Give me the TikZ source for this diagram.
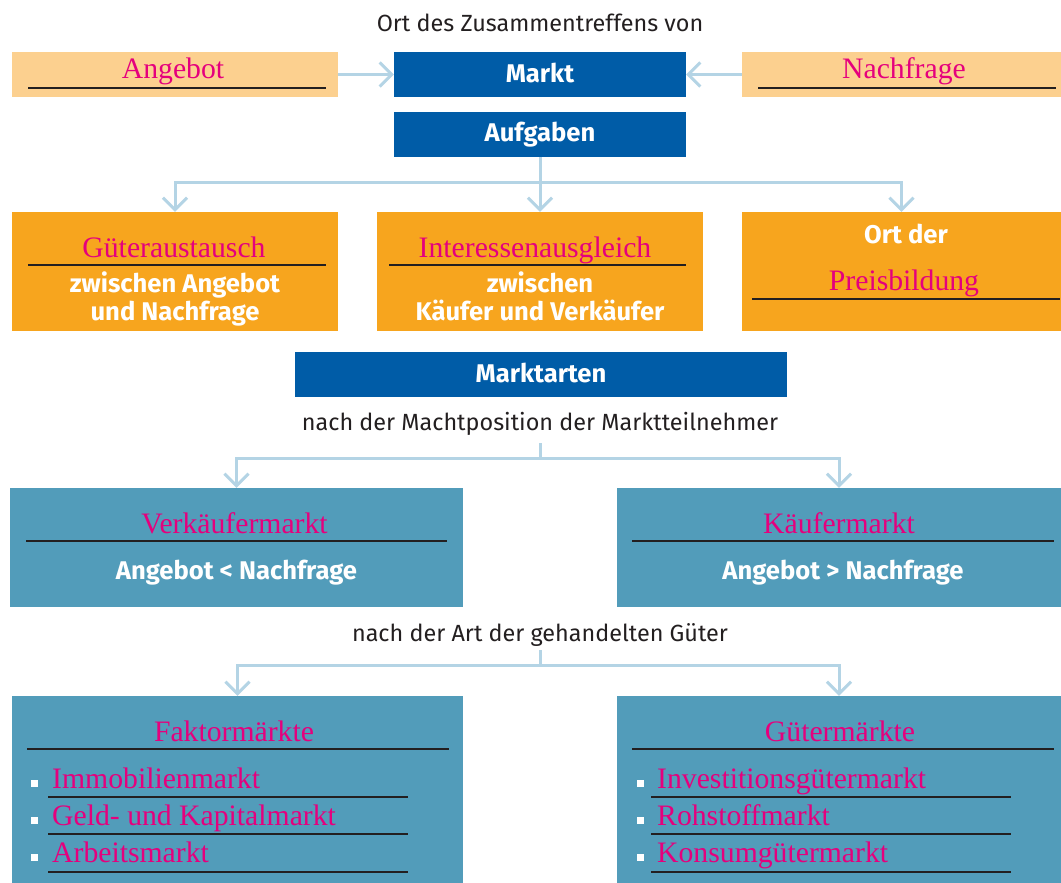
\documentclass[tikz,border=0pt]{standalone}
\usepackage{fontspec}
\setmainfont{Liberation Serif}
\newfontfamily\fira{Fira Sans}
\usetikzlibrary{arrows.meta}
\definecolor{lorange}{RGB}{252,208,143}
\definecolor{orangec}{RGB}{247,165,30}
\definecolor{dblue}{RGB}{0,92,167}
\definecolor{teal}{RGB}{82,156,186}
\definecolor{pinkc}{RGB}{229,0,125}
\definecolor{arrowc}{RGB}{180,212,229}
\definecolor{textc}{RGB}{35,31,32}
\begin{document}
\begin{tikzpicture}[x=1pt,y=-1pt,
  boxx/.style={rectangle, inner sep=0pt, draw=none},
  pinkt/.style={font=\fontsize{29.7}{34}\selectfont, text=pinkc, inner sep=0pt, anchor=base},
  wb/.style={font=\fira\bfseries\fontsize{25.6}{30}\selectfont, text=white, inner sep=0pt, anchor=base},
  plain/.style={font=\fira\fontsize{23.4}{28}\selectfont, text=textc, inner sep=0pt, anchor=base},
  item/.style={pinkt, anchor=base west},
  uline/.style={line width=1.7pt, draw=textc},
  conn/.style={draw=arrowc, line width=3pt},
  arr/.style={conn, -{Straight Barb[length=12pt, width=24pt]}},
  bullet/.style={rectangle, fill=white, inner sep=0pt, minimum size=7pt}
]
\useasboundingbox (0,0) rectangle (1061,883);

% boxes
\node[boxx, fill=lorange, minimum width=326pt, minimum height=45pt] (angebot) at (175,74.5) {};
\node[boxx, fill=dblue, minimum width=292pt, minimum height=45pt] (markt) at (540,74.5) {};
\node[boxx, fill=lorange, minimum width=319pt, minimum height=45pt] (nachfrage) at (901.5,74.5) {};
\node[boxx, fill=dblue, minimum width=292pt, minimum height=45pt] (aufgaben) at (540,134.5) {};
\node[boxx, fill=orangec, minimum width=326pt, minimum height=119pt] (gut) at (175,271.5) {};
\node[boxx, fill=orangec, minimum width=326pt, minimum height=119pt] (int) at (540,271.5) {};
\node[boxx, fill=orangec, minimum width=319pt, minimum height=119pt] (preis) at (901.5,271.5) {};
\node[boxx, fill=dblue, minimum width=492pt, minimum height=45pt] (marktarten) at (541,374.5) {};
\node[boxx, fill=teal, minimum width=453pt, minimum height=119pt] (verk) at (236.5,547.5) {};
\node[boxx, fill=teal, minimum width=444pt, minimum height=119pt] (kauf) at (839,547.5) {};
\node[boxx, fill=teal, minimum width=451pt, minimum height=187pt] (faktor) at (237.5,789.5) {};
\node[boxx, fill=teal, minimum width=444pt, minimum height=187pt] (gueter) at (839,789.5) {};

% top texts
\node[plain] (title) at (540,32) {Ort des Zusammentreffens von};
\node[wb] (tmarkt) at (540,82) {Markt};
\node[wb] (taufg) at (540,142) {Aufgaben};
\node[pinkt] (tang) at (173,79) {Angebot};
\draw[uline] (28,87.7) -- (326,87.7);
\node[pinkt] (tnach) at (904,79) {Nachfrage};
\draw[uline] (758,87.7) -- (1056,87.7);

% Aufgaben boxes
\node[pinkt] (tgut) at (174,257) {Güteraustausch};
\draw[uline] (28,265) -- (326,265);
\node[wb] (tgut2) at (175,292) {zwischen Angebot};
\node[wb] (tgut3) at (175,320) {und Nachfrage};
\node[pinkt] (tint) at (535,257) {Interessenausgleich};
\draw[uline] (389,265) -- (686,265);
\node[wb] (tint2) at (540,292) {zwischen};
\node[wb] (tint3) at (540,320) {Käufer und Verkäufer};
\node[wb] (tpreis1) at (906,243) {Ort der};
\node[pinkt] (tpreis2) at (904,290) {Preisbildung};
\draw[uline] (752,299) -- (1060,299);

% Marktarten
\node[wb] (tmarktarten) at (541,382.5) {Marktarten};
\node[plain] (tmacht) at (540,430) {nach der Machtposition der Marktteilnehmer};
\node[pinkt] (tverk) at (234.5,533) {Verkäufermarkt};
\draw[uline] (26,541) -- (447,541);
\node[wb] (tverk2) at (236.5,579) {Angebot < Nachfrage};
\node[pinkt] (tkauf) at (839,533) {Käufermarkt};
\draw[uline] (632,541) -- (1054,541);
\node[wb] (tkauf2) at (843,579) {Angebot > Nachfrage};
\node[plain] (tart) at (540,641) {nach der Art der gehandelten Güter};

% Faktormaerkte
\node[pinkt] (tfak) at (234,741) {Faktormärkte};
\draw[uline] (27,749) -- (449,749);
\node[bullet] (bl1) at (34.5,783) {};
\node[bullet] (bl2) at (34.5,820) {};
\node[bullet] (bl3) at (34.5,857.5) {};
\node[item] (il1) at (52,788) {Immobilienmarkt};
\node[item] (il2) at (52,825) {Geld- und Kapitalmarkt};
\node[item] (il3) at (52,862) {Arbeitsmarkt};
\draw[uline] (48,797) -- (408,797);
\draw[uline] (48,834) -- (408,834);
\draw[uline] (48,872) -- (408,872);

% Guetermaerkte
\node[pinkt] (tgue) at (840,741) {Gütermärkte};
\draw[uline] (632,749) -- (1054,749);
\node[bullet] (br1) at (640,783) {};
\node[bullet] (br2) at (640,820) {};
\node[bullet] (br3) at (640,857.5) {};
\node[item] (ir1) at (657,788) {Investitionsgütermarkt};
\node[item] (ir2) at (657,825) {Rohstoffmarkt};
\node[item] (ir3) at (657,862) {Konsumgütermarkt};
\draw[uline] (651,797) -- (1011,797);
\draw[uline] (651,834) -- (1011,834);
\draw[uline] (651,872) -- (1011,872);

% connectors
\draw[arr] (angebot) -- (markt);
\draw[arr] (nachfrage) -- (markt);

\coordinate (j1) at (540,182);
\draw[conn] (aufgaben.south) -- (j1);
\draw[arr] (j1) -| (gut.north);
\draw[arr] (j1) -- (int.north);
\draw[arr] (j1) -| (preis.north);

\coordinate (s2) at (540,443);
\coordinate (j2) at (540,458);
\draw[conn] (s2) -- (j2);
\draw[arr] (j2) -| (verk.north);
\draw[arr] (j2) -| (kauf.north);

\coordinate (s3) at (540,650);
\coordinate (j3) at (540,665);
\draw[conn] (s3) -- (j3);
\draw[arr] (j3) -| (faktor.north);
\draw[arr] (j3) -| (gueter.north);
\end{tikzpicture}
\end{document}
